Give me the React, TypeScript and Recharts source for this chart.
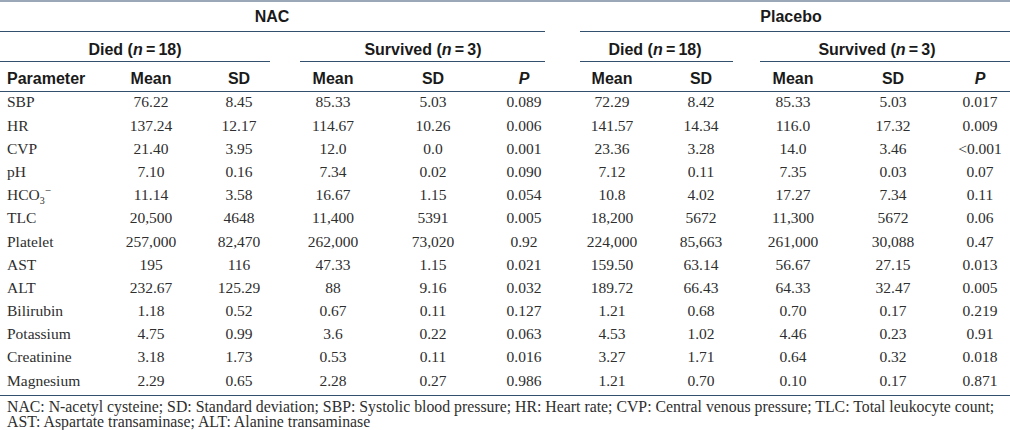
import { ScatterChart, Scatter, XAxis, YAxis, Customized } from 'recharts';

// table rows
const PARAMS = ['SBP', 'HR', 'CVP', 'pH', 'HCO3-', 'TLC', 'Platelet', 'AST', 'ALT', 'Bilirubin', 'Potassium', 'Creatinine', 'Magnesium'];

const NAC_DIED_MEAN = ['76.22', '137.24', '21.40', '7.10', '11.14', '20,500', '257,000', '195', '232.67', '1.18', '4.75', '3.18', '2.29'];
const NAC_DIED_SD = ['8.45', '12.17', '3.95', '0.16', '3.58', '4648', '82,470', '116', '125.29', '0.52', '0.99', '1.73', '0.65'];
const NAC_SURV_MEAN = ['85.33', '114.67', '12.0', '7.34', '16.67', '11,400', '262,000', '47.33', '88', '0.67', '3.6', '0.53', '2.28'];
const NAC_SURV_SD = ['5.03', '10.26', '0.0', '0.02', '1.15', '5391', '73,020', '1.15', '9.16', '0.11', '0.22', '0.11', '0.27'];
const NAC_P = ['0.089', '0.006', '0.001', '0.090', '0.054', '0.005', '0.92', '0.021', '0.032', '0.127', '0.063', '0.016', '0.986'];

const PLA_DIED_MEAN = ['72.29', '141.57', '23.36', '7.12', '10.8', '18,200', '224,000', '159.50', '189.72', '1.21', '4.53', '3.27', '1.21'];
const PLA_DIED_SD = ['8.42', '14.34', '3.28', '0.11', '4.02', '5672', '85,663', '63.14', '66.43', '0.68', '1.02', '1.71', '0.70'];
const PLA_SURV_MEAN = ['85.33', '116.0', '14.0', '7.35', '17.27', '11,300', '261,000', '56.67', '64.33', '0.70', '4.46', '0.64', '0.10'];
const PLA_SURV_SD = ['5.03', '17.32', '3.46', '0.03', '7.34', '5672', '30,088', '27.15', '32.47', '0.17', '0.23', '0.32', '0.17'];
const PLA_P = ['0.017', '0.009', '<0.001', '0.07', '0.11', '0.06', '0.47', '0.013', '0.005', '0.219', '0.91', '0.018', '0.871'];

const COLUMN_HEADS = ['Parameter', 'Mean', 'SD', 'Mean', 'SD', 'P', 'Mean', 'SD', 'Mean', 'SD', 'P'];
const GROUPS = ['NAC', 'Placebo'];
const SUBGROUPS = [
    { label: 'Died', n: '18' },
    { label: 'Survived', n: '3' },
    { label: 'Died', n: '18' },
    { label: 'Survived', n: '3' },
];
const FOOTNOTES = [
    'NAC: N-acetyl cysteine; SD: Standard deviation; SBP: Systolic blood pressure; HR: Heart rate; CVP: Central venous pressure; TLC: Total leukocyte count;',
    'AST: Aspartate transaminase; ALT: Alanine transaminase',
];

const COLUMNS = [PARAMS, NAC_DIED_MEAN, NAC_DIED_SD, NAC_SURV_MEAN, NAC_SURV_SD, NAC_P,
    PLA_DIED_MEAN, PLA_DIED_SD, PLA_SURV_MEAN, PLA_SURV_SD, PLA_P];

// layout
const W = 1010;
const H = 430;
const COL_X = [7, 151, 239, 333, 433, 524, 612, 701, 793, 893, 980];
const GROUP_SPANS = [[0, 545], [580, 1010]];
const GROUP_X = [272, 791];
const SUB_SPANS = [[0, 270], [300, 545], [580, 733], [760, 1010]];
const SUB_X = [135, 423, 655, 877];
const RULE = '#34506f';
const INK = '#2e2e2e';
const HEAD_INK = '#1a1a1a';
const HEAD_FONT = '"Liberation Sans", Arial, sans-serif';
const BODY_FONT = '"Liberation Serif", "Times New Roman", serif';

const CellText = (props: any) => {
    const { cx, cy, payload } = props;
    if (cx == null || cy == null) return null;
    const anchor = payload.col === 0 ? 'start' : 'middle';
    const label: string = payload.label;
    if (label === 'HCO3-') {
        return (
            <text x={cx} y={cy + 4.5} textAnchor={anchor} fontFamily={BODY_FONT} fontSize={15.5} fill={INK}>
                HCO<tspan dy={4} fontSize={10}>3</tspan><tspan dy={-10} fontSize={11}>−</tspan>
            </text>
        );
    }
    return (
        <text x={cx} y={cy + 4.5} textAnchor={anchor} fontFamily={BODY_FONT} fontSize={15.5} fill={INK}>
            {label}
        </text>
    );
};

const headProps = { fontFamily: HEAD_FONT, fontWeight: 'bold', fontSize: 16, fill: HEAD_INK };

const TableChrome = () => (
    <g>
        <line x1={0} x2={W} y1={1} y2={1} stroke={RULE} strokeWidth={1} />
        {GROUP_SPANS.map(([a, b], i) => (
            <g key={'g' + i}>
                <text x={GROUP_X[i]} y={22} textAnchor="middle" {...headProps}>
                    {GROUPS[i]}
                </text>
                <line x1={a} x2={b} y1={31.5} y2={31.5} stroke={RULE} strokeWidth={1} />
            </g>
        ))}
        {SUB_SPANS.map(([a, b], i) => (
            <g key={'s' + i}>
                <text x={SUB_X[i]} y={55} textAnchor="middle" {...headProps}>
                    {SUBGROUPS[i].label} (<tspan fontStyle="italic">n</tspan>{'\u2009=\u2009'}{SUBGROUPS[i].n})
                </text>
                <line x1={a} x2={b} y1={61.5} y2={61.5} stroke={RULE} strokeWidth={1} />
            </g>
        ))}
        {COLUMN_HEADS.map((h, i) => (
            <text key={'h' + i} x={COL_X[i]} y={84} textAnchor={i === 0 ? 'start' : 'middle'}
                {...headProps} fontStyle={h === 'P' ? 'italic' : 'normal'}>
                {h}
            </text>
        ))}
        <line x1={0} x2={W} y1={91.5} y2={91.5} stroke={RULE} strokeWidth={1} />
        <line x1={0} x2={W} y1={395.5} y2={395.5} stroke={RULE} strokeWidth={1} />
        {FOOTNOTES.map((f, i) => (
            <text key={'f' + i} x={7} y={412 + i * 15} fontFamily={BODY_FONT} fontSize={15.8} fill={INK}>
                {f}
            </text>
        ))}
    </g>
);

export default function App() {
    const series = COLUMNS.map((values, col) =>
        values.map((label, row) => ({ x: COL_X[col], row, label, col }))
    );

    return (
        <div style={{ position: 'absolute', left: 0, top: 0, width: W, height: H, background: '#ffffff' }}>
            <ScatterChart
                width={W}
                height={H}
                margin={{ top: 91.4, right: 0, bottom: 37.4, left: 0 }}
            >
                <XAxis type="number" dataKey="x" domain={[0, W]} hide />
                <YAxis type="number" dataKey="row" domain={[-0.5, PARAMS.length - 0.5]} reversed hide width={0} />
                {series.map((data, col) => (
                    <Scatter key={col} data={data} shape={<CellText />} isAnimationActive={false} />
                ))}
                <Customized component={<TableChrome />} />
            </ScatterChart>
        </div>
    );
}
